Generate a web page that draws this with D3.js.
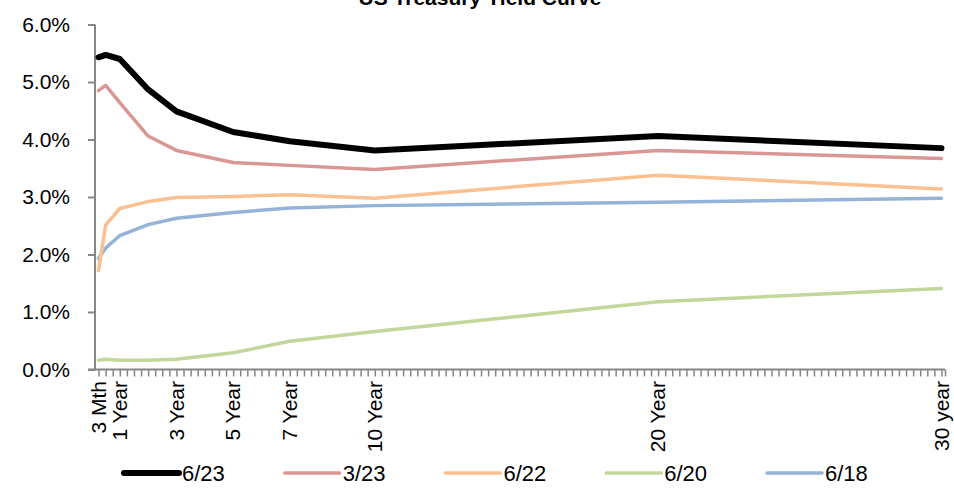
<!DOCTYPE html>
<html>
<head>
<meta charset="utf-8">
<script src="https://cdn.jsdelivr.net/npm/d3@7"></script>
<style>
  html, body { margin: 0; padding: 0; background: #fff; }
  svg { display: block; font-family: "Liberation Sans", Arial, sans-serif; }
</style>
</head>
<body>
<svg id="chart" width="954" height="490"></svg>
<script>
// Maturities in years
const maturities = [0.25, 0.5, 1, 2, 3, 5, 7, 10, 20, 30];
// Series (yield, %)
const seriesNames = ["6/23", "3/23", "6/22", "6/20", "6/18"];
const y_6_23 = [5.43, 5.47, 5.40, 4.87, 4.49, 4.13, 3.97, 3.81, 4.06, 3.85];
const y_3_23 = [4.85, 4.94, 4.64, 4.06, 3.81, 3.60, 3.55, 3.48, 3.81, 3.67];
const y_6_22 = [1.72, 2.51, 2.80, 2.92, 2.99, 3.01, 3.04, 2.98, 3.38, 3.14];
const y_6_20 = [0.16, 0.18, 0.16, 0.16, 0.18, 0.29, 0.49, 0.66, 1.18, 1.41];
const y_6_18 = [1.93, 2.11, 2.33, 2.52, 2.63, 2.73, 2.81, 2.85, 2.91, 2.98];
const seriesColors = ["#000000", "#D99694", "#FAC090", "#C3D69B", "#95B3D7"];
const seriesWidths = [6, 3.5, 3.5, 3.5, 3.5];
// Tick labels
const xTickValues = [0.25, 1, 3, 5, 7, 10, 20, 30];
const xTickLabels = ["3 Mth", "1 Year", "3 Year", "5 Year", "7 Year", "10 Year", "20 Year", "30 year"];
const yTickValues = [0, 1, 2, 3, 4, 5, 6];
const title = "US Treasury Yield Curve";

const seriesValues = [y_6_23, y_3_23, y_6_22, y_6_20, y_6_18];
const quarters = d3.range(1, 121).map(i => i * 0.25);

const svg = d3.select("#chart");
const plotLeft = 95, plotRight = 945, plotTop = 24.5, plotBottom = 369.5;
const axisColor = "#868686";

const x = d3.scaleLinear().domain([0.125, 30.125]).range([plotLeft, plotRight]);
const y = d3.scaleLinear().domain([0, 6]).range([plotBottom, plotTop]);

// Title (partly cut off at the top)
svg.append("text")
  .attr("x", 480).attr("y", 5)
  .attr("text-anchor", "middle")
  .attr("font-size", 21).attr("font-weight", "bold")
  .attr("fill", "#000")
  .text(title);

// Y axis
const yAxis = d3.axisLeft(y).tickValues(yTickValues).tickSize(7).tickPadding(18)
  .tickFormat(d => d3.format(".1f")(d) + "%");
const gy = svg.append("g").attr("transform", `translate(${plotLeft},0)`).call(yAxis);
gy.select(".domain").attr("stroke", axisColor).attr("stroke-width", 2)
  .attr("d", `M0,${plotTop}V${plotBottom}`);
gy.selectAll(".tick line").attr("stroke", axisColor).attr("stroke-width", 2);
gy.selectAll(".tick text").attr("font-size", 21).attr("fill", "#000")
  .attr("font-family", "Liberation Sans, Arial, sans-serif");

// X axis: quarterly minor ticks
const xAxis = d3.axisBottom(x).tickValues(quarters.concat([30.125])).tickSize(7).tickFormat("");
const gx = svg.append("g").attr("transform", `translate(0,${plotBottom})`).call(xAxis);
gx.select(".domain").attr("stroke", axisColor).attr("stroke-width", 2)
  .attr("d", `M${plotLeft - 7},0H${plotRight}`);
gx.selectAll(".tick line").attr("stroke", axisColor).attr("stroke-width", 1.5);

// X labels (rotated)
const gxl = svg.append("g");
xTickValues.forEach((v, i) => {
  gxl.append("text")
    .attr("transform", `translate(${x(v)},381) rotate(-90)`)
    .attr("text-anchor", "end")
    .attr("dy", "0.35em")
    .attr("font-size", 21)
    .attr("fill", "#000")
    .text(xTickLabels[i]);
});

// Lines (draw background series first, 6/23 on top)
const line = d3.line().x(d => x(d[0])).y(d => y(d[1]));
const order = [4, 3, 2, 1, 0];
order.forEach(si => {
  const pts = maturities.map((m, j) => [m, seriesValues[si][j]]);
  svg.append("path")
    .datum(pts)
    .attr("d", line)
    .attr("fill", "none")
    .attr("stroke", seriesColors[si])
    .attr("stroke-width", seriesWidths[si])
    .attr("stroke-linejoin", "round")
    .attr("stroke-linecap", "round");
});

// Legend
const legendX = d3.scalePoint().domain(seriesNames).range([124, 767]);
const legendY = 473;
seriesNames.forEach((name, i) => {
  const lx = legendX(name);
  svg.append("line")
    .attr("x1", lx).attr("x2", lx + 55)
    .attr("y1", legendY).attr("y2", legendY)
    .attr("stroke", seriesColors[i])
    .attr("stroke-width", seriesWidths[i])
    .attr("stroke-linecap", "round");
  svg.append("text")
    .attr("x", lx + 58).attr("y", legendY)
    .attr("dy", "0.35em")
    .attr("font-size", 22)
    .attr("fill", "#000")
    .text(name);
});
</script>
</body>
</html>
